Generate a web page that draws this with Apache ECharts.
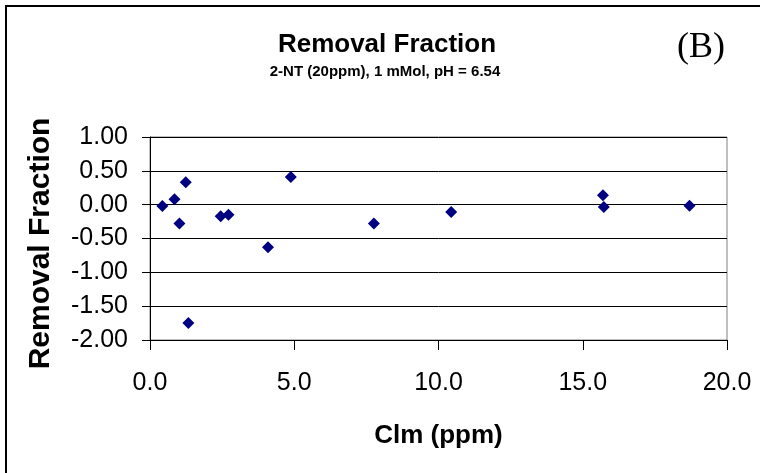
<!DOCTYPE html>
<html>
<head>
<meta charset="utf-8">
<script src="https://cdn.jsdelivr.net/npm/echarts@6/dist/echarts.min.js"></script>
<style>html,body{margin:0;padding:0;background:#fff}#c{width:760px;height:473px}</style>
</head>
<body>
<div id="c"></div>
<script>
const clmPpm = [0.43, 0.85, 1.02, 1.24, 1.33, 2.45, 2.72, 4.09, 4.88, 7.76, 10.44, 15.70, 15.73, 18.70];
const removalFraction = [-0.02, 0.08, -0.28, 0.33, -1.75, -0.17, -0.15, -0.63, 0.41, -0.28, -0.11, 0.14, -0.035, -0.015];
const titleText = 'Removal Fraction';
const subtitleText = '2-NT (20ppm), 1 mMol, pH = 6.54';
const panelLabel = '(B)';
const xAxisName = 'Clm (ppm)';
const yAxisName = 'Removal Fraction';
const xTicks = [0, 5, 10, 15, 20];
const yTicks = [-2, -1.5, -1, -0.5, 0, 0.5, 1];

const points = clmPpm.map((x, i) => [x, removalFraction[i]]);
const chart = echarts.init(document.getElementById('c'), null, {renderer: 'canvas'});
chart.setOption({
  animation: false,
  backgroundColor: '#fff',
  grid: {left: 150, right: 33, top: 137, bottom: 133, show: true, borderColor: '#808080', borderWidth: 1, backgroundColor: 'transparent'},
  graphic: [
    {type: 'rect', shape: {x: 6, y: 6, width: 800, height: 600}, style: {fill: 'none', stroke: '#000', lineWidth: 2}, silent: true},
    {type: 'text', x: 387, y: 45, style: {text: titleText, font: 'bold 26px "Liberation Sans", Arial, sans-serif', fill: '#000', align: 'center', verticalAlign: 'middle'}},
    {type: 'text', x: 385, y: 72, style: {text: subtitleText, font: 'bold 15px "Liberation Sans", Arial, sans-serif', fill: '#000', align: 'center', verticalAlign: 'middle'}},
    {type: 'text', x: 701, y: 48, style: {text: panelLabel, font: '36px "Liberation Serif", "Times New Roman", serif', fill: '#000', align: 'center', verticalAlign: 'middle'}}
  ],
  xAxis: {
    type: 'value', min: xTicks[0], max: xTicks[xTicks.length - 1], interval: 5,
    name: xAxisName, nameLocation: 'middle', nameGap: 83,
    nameTextStyle: {fontFamily: '"Liberation Sans", Arial, sans-serif', fontWeight: 'bold', fontSize: 26, color: '#000'},
    axisLine: {show: true, onZero: false, lineStyle: {color: '#000', width: 1}},
    axisTick: {show: true, inside: false, length: 10, lineStyle: {color: '#000'}},
    axisLabel: {margin: 31, fontFamily: '"Liberation Sans", Arial, sans-serif', fontSize: 25, color: '#000', formatter: v => v.toFixed(1)},
    splitLine: {show: false}
  },
  yAxis: {
    type: 'value', min: yTicks[0], max: yTicks[yTicks.length - 1], interval: 0.5,
    name: yAxisName, nameLocation: 'middle', nameGap: 94, nameRotate: 90,
    nameTextStyle: {fontFamily: '"Liberation Sans", Arial, sans-serif', fontWeight: 'bold', fontSize: 30, color: '#000', padding: [0, 10, 0, 0]},
    axisLine: {show: true, onZero: false, lineStyle: {color: '#000', width: 1}},
    axisTick: {show: true, inside: false, length: 8, lineStyle: {color: '#000'}},
    axisLabel: {margin: 22, fontFamily: '"Liberation Sans", Arial, sans-serif', fontSize: 25, color: '#000', formatter: v => v.toFixed(2)},
    splitLine: {show: true, lineStyle: {color: '#000', width: 1}}
  },
  series: [{
    type: 'scatter', data: points, symbol: 'diamond', symbolSize: 12,
    itemStyle: {color: '#000080', opacity: 1}
  }]
});
</script>
</body>
</html>
